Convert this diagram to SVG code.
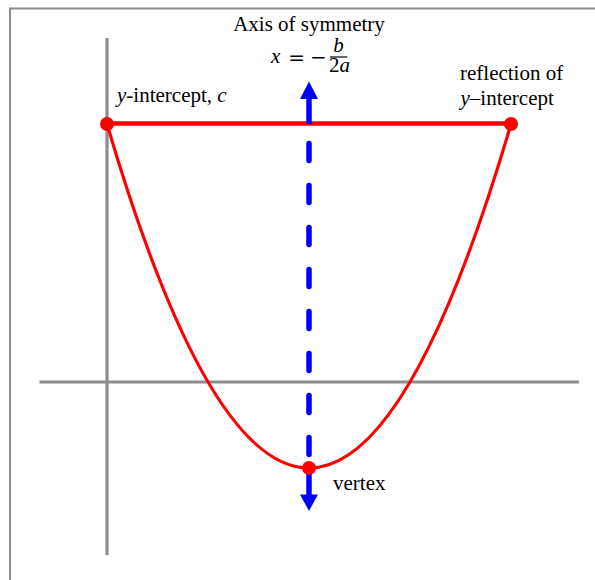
<svg xmlns="http://www.w3.org/2000/svg" width="595" height="580" viewBox="0 0 595 580">
<style>
.lbl{font-family:"Liberation Serif","Times New Roman",serif;font-size:21px;fill:#000}
.it{font-style:italic}
.sym{font-family:"DejaVu Sans",sans-serif;font-size:20px;fill:#000}
.axis{stroke:#8c8c8c;stroke-width:3.2;fill:none}
.red{stroke:#ff0000;fill:none}
.dot{fill:#ff0000}
.blue{stroke:#0000ff;stroke-width:5.5;fill:none}
.head{fill:#0000ff}
</style>
<rect width="595" height="580" fill="#ffffff"/>
<path d="M10,580 V8.5 H595" fill="none" stroke="#8c8c8c" stroke-width="2"/>
<g id="axes">
<line class="axis" x1="107" y1="38" x2="107" y2="555"/>
<line class="axis" x1="39.5" y1="382" x2="579" y2="382"/>
</g>
<g id="parabola">
<path class="red" stroke-width="3.2" d="M107,124 Q309,812 511,124"/>
<line class="red" stroke-width="4.6" x1="107" y1="123.5" x2="511" y2="123.5"/>
</g>
<g id="connectors">
<line class="blue" x1="309" y1="98" x2="309" y2="124"/>
<polygon class="head" points="309,81.5 300,99 318,99"/>
<line class="blue" x1="309" y1="143.5" x2="309" y2="454.5" stroke-linecap="round" stroke-dasharray="17 25"/>
<line class="blue" x1="309" y1="468" x2="309" y2="496"/>
<polygon class="head" points="300,494.5 318,494.5 309,511"/>
</g>
<g id="axis-label">
<text class="lbl" x="309" y="30.5" text-anchor="middle">Axis of symmetry</text>
<text class="lbl it" x="271" y="62.5" font-size="26">x</text>
<text class="sym" x="296.7" y="63.5" text-anchor="middle">=</text>
<text class="sym" x="318.3" y="63.5" text-anchor="middle">−</text>
<text class="lbl it" x="338.5" y="52" font-size="12.5" text-anchor="middle">b</text>
<line x1="330" y1="57" x2="347.3" y2="57" stroke="#000" stroke-width="1.2"/>
<text class="lbl" x="339.5" y="72.3" font-size="15" text-anchor="middle">2<tspan class="it">a</tspan></text>
</g>
<g id="y-intercept">
<circle class="dot" cx="107" cy="124" r="7"/>
<text class="lbl" x="117" y="102"><tspan class="it">y</tspan>-intercept, <tspan class="it">c</tspan></text>
</g>
<g id="reflection">
<circle class="dot" cx="511" cy="124" r="7"/>
<text class="lbl" x="460" y="79.5">reflection of</text>
<text class="lbl" x="460.5" y="105"><tspan class="it">y</tspan>–intercept</text>
</g>
<g id="vertex">
<circle class="dot" cx="309" cy="468" r="7"/>
<text class="lbl" x="333" y="489.5">vertex</text>
</g>
</svg>
